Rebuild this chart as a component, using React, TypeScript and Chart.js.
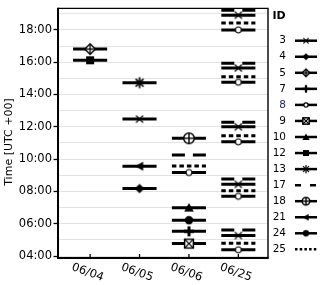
import React, { useEffect, useRef } from 'react';
import { Chart, registerables } from 'chart.js';

Chart.register(...registerables);

// ---------------- data ----------------
const categories = ['06/04', '06/05', '06/06', '06/25'];
const idLabels = ['3', '4', '5', '7', '8', '9', '10', '12', '13', '17', '18', '21', '24', '25'];

// observations: [day index, hour of day (UTC)]
const obs3: [number, number][] = [[1, 12.48], [3, 18.91], [3, 15.64], [3, 12.0], [3, 8.44], [3, 5.27]];
const obs4: [number, number][] = [[1, 8.18]];
const obs5: [number, number][] = [[0, 16.81]];
const obs7: [number, number][] = [[2, 5.53]];
const obs8: [number, number][] = [[2, 9.17], [3, 18.0], [3, 14.76], [3, 11.07], [3, 7.7], [3, 4.39]];
const obs9: [number, number][] = [[2, 4.77]];
const obs10: [number, number][] = [[2, 6.99]];
const obs12: [number, number][] = [[0, 16.12]];
const obs13: [number, number][] = [[1, 14.73]];
const obs17: [number, number][] = [[2, 10.26], [3, 19.21], [3, 15.94], [3, 12.28], [3, 8.77], [3, 5.62]];
const obs18: [number, number][] = [[2, 11.29]];
const obs21: [number, number][] = [[1, 9.56]];
const obs24: [number, number][] = [[2, 6.22]];
const obs25: [number, number][] = [[2, 9.58], [3, 18.42], [3, 15.1], [3, 11.44], [3, 8.04], [3, 4.79]];

const hourTicks = [4, 5, 6, 7, 8, 9, 10, 11, 12, 13, 14, 15, 16, 17, 18, 19];
const yTickLabels = ['04:00', '06:00', '08:00', '10:00', '12:00', '14:00', '16:00', '18:00'];

const seriesObs = [obs3, obs4, obs5, obs7, obs8, obs9, obs10, obs12, obs13, obs17, obs18, obs21, obs24, obs25];

// ---------------- styles ----------------
type Kind = 'x' | 'diamond' | 'diamondPlus' | 'plus' | 'circleOpen' | 'squareX' | 'triUp' | 'square' | 'star' | 'circlePlus' | 'triLeft' | 'circle' | 'none';
const markerKinds: Kind[] = ['x', 'diamond', 'diamondPlus', 'plus', 'circleOpen', 'squareX', 'triUp', 'square', 'star', 'none', 'circlePlus', 'triLeft', 'circle', 'none'];
const markerSizes = [3.5, 4.8, 6, 5, 3.5, 5, 4.8, 4, 5.5, 0, 6, 4.5, 4.2, 0];
const plotDashes: number[][] = [[], [], [], [], [], [], [], [], [], [13, 8], [], [], [], [4.5, 3]];
const legendDashes: number[][] = [[], [], [], [], [], [], [], [], [], [6, 9], [], [], [], [2.5, 2.2]];
const HALF = 0.345;
const FONT = 'DejaVu Sans';

function makeMarker(kind: Kind, s: number): HTMLCanvasElement | null {
  if (kind === 'none') return null;
  const size = 2 * Math.ceil(s + 2);
  const c = document.createElement('canvas');
  c.width = size;
  c.height = size;
  const g = c.getContext('2d')!;
  g.translate(size / 2, size / 2);
  g.fillStyle = '#000';
  g.strokeStyle = '#000';
  const line = (x1: number, y1: number, x2: number, y2: number, w: number) => {
    g.lineWidth = w;
    g.beginPath();
    g.moveTo(x1, y1);
    g.lineTo(x2, y2);
    g.stroke();
  };
  const k = s / 5;
  switch (kind) {
    case 'x':
      line(-s, -s, s, s, 1.5 * Math.max(k, 0.8));
      line(-s, s, s, -s, 1.5 * Math.max(k, 0.8));
      break;
    case 'diamond':
      g.beginPath();
      g.moveTo(0, -s); g.lineTo(s, 0); g.lineTo(0, s); g.lineTo(-s, 0);
      g.closePath(); g.fill();
      break;
    case 'diamondPlus': {
      const r = s - 0.7;
      g.beginPath();
      g.moveTo(0, -r); g.lineTo(r, 0); g.lineTo(0, r); g.lineTo(-r, 0);
      g.closePath();
      g.fillStyle = '#fff'; g.fill();
      g.lineWidth = 1.4; g.stroke();
      line(-r, 0, r, 0, 1.3);
      line(0, -r, 0, r, 1.3);
      break;
    }
    case 'plus':
      line(-s, 0, s, 0, 3 * k);
      line(0, -s, 0, s, 3 * k);
      break;
    case 'circleOpen':
      g.beginPath(); g.arc(0, 0, s - 0.5, 0, Math.PI * 2);
      g.fillStyle = '#fff'; g.fill();
      g.lineWidth = 1.2; g.stroke();
      break;
    case 'squareX': {
      const r = s - 0.6;
      g.fillStyle = '#fff';
      g.fillRect(-r, -r, 2 * r, 2 * r);
      g.lineWidth = 1.5;
      g.strokeRect(-r, -r, 2 * r, 2 * r);
      line(-r, -r, r, r, 1.3);
      line(-r, r, r, -r, 1.3);
      break;
    }
    case 'triUp':
      g.beginPath();
      g.moveTo(0, -s); g.lineTo(s, s * 0.8); g.lineTo(-s, s * 0.8);
      g.closePath(); g.fill();
      break;
    case 'square':
      g.fillRect(-s, -s, 2 * s, 2 * s);
      break;
    case 'star':
      for (let a = 0; a < 4; a++) {
        const t = (a * Math.PI) / 4;
        line(-s * Math.cos(t), -s * Math.sin(t), s * Math.cos(t), s * Math.sin(t), 1.5 * Math.max(k, 0.8));
      }
      break;
    case 'circlePlus': {
      const r = s - 0.7;
      g.beginPath(); g.arc(0, 0, r, 0, Math.PI * 2);
      g.fillStyle = '#fff'; g.fill();
      g.lineWidth = 1.5; g.stroke();
      line(-r, 0, r, 0, 1.4);
      line(0, -r, 0, r, 1.4);
      break;
    }
    case 'triLeft':
      g.beginPath();
      g.moveTo(-s, 0); g.lineTo(s * 0.8, -s); g.lineTo(s * 0.8, s);
      g.closePath(); g.fill();
      break;
    case 'circle':
      g.beginPath(); g.arc(0, 0, s, 0, Math.PI * 2); g.fill();
      break;
  }
  return c;
}

export default function App() {
  const ref = useRef<HTMLCanvasElement | null>(null);

  useEffect(() => {
    if (!ref.current) return;
    const plotMarkers = markerKinds.map((k, i) => makeMarker(k, markerSizes[i]));
    const legendMarkers = markerKinds.map((k, i) => makeMarker(k, markerSizes[i] * 0.75));

    const datasets = seriesObs.map((obs, i) => {
      const data: { x: number; y: number | null }[] = [];
      obs.forEach(([d, h]) => {
        data.push({ x: d - HALF, y: h });
        data.push({ x: d, y: h });
        data.push({ x: d + HALF, y: h });
        data.push({ x: d, y: null });
      });
      const mk = plotMarkers[i];
      return {
        label: idLabels[i],
        data,
        borderColor: '#000',
        backgroundColor: '#000',
        borderWidth: 3,
        borderDash: plotDashes[i],
        borderCapStyle: 'butt' as const,
        tension: 0,
        spanGaps: false,
        pointStyle: mk ? (mk as any) : 'circle',
        pointRadius: (ctx: any) => (mk && ctx.dataIndex % 4 === 1 ? 5 : 0),
        pointHoverRadius: 0,
      };
    });

    const decorations = {
      id: 'decorations',
      afterDraw(chart: any) {
        const ctx = chart.ctx as CanvasRenderingContext2D;
        const a = chart.chartArea;
        const xs = chart.scales.x;
        ctx.save();
        // frame
        ctx.strokeStyle = '#000';
        ctx.lineWidth = 1.4;
        ctx.beginPath();
        ctx.moveTo(a.left, a.top); ctx.lineTo(a.right, a.top); ctx.lineTo(a.right, a.bottom);
        ctx.stroke();
        ctx.lineWidth = 2;
        ctx.beginPath();
        ctx.moveTo(a.left, a.top - 0.7); ctx.lineTo(a.left, a.bottom); ctx.lineTo(a.right + 0.7, a.bottom);
        ctx.stroke();
        // x ticks (inside) and rotated labels
        ctx.lineWidth = 1.3;
        ctx.fillStyle = '#000';
        ctx.font = `11.5px "${FONT}"`;
        ctx.textAlign = 'center';
        ctx.textBaseline = 'middle';
        categories.forEach((c, i) => {
          const px = xs.getPixelForValue(i);
          ctx.beginPath();
          ctx.moveTo(px, a.bottom);
          ctx.lineTo(px, a.bottom - 4);
          ctx.stroke();
          ctx.save();
          ctx.translate(px - 2.5, a.bottom + 14.5);
          ctx.rotate((20 * Math.PI) / 180);
          ctx.fillText(c, 0, 0);
          ctx.restore();
        });
        // y title
        ctx.save();
        ctx.translate(9, 142);
        ctx.rotate(-Math.PI / 2);
        ctx.font = `11px "${FONT}"`;
        ctx.fillText('Time [UTC +00]', 0, 0);
        ctx.restore();
        // legend
        ctx.font = `bold 11px "${FONT}"`;
        ctx.textAlign = 'center';
        ctx.fillText('ID', 279, 16);
        ctx.font = `10.5px "${FONT}"`;
        idLabels.forEach((lab, i) => {
          const y = 40.7 + 16.05 * i;
          ctx.textAlign = 'right';
          ctx.fillStyle = lab === '8' ? '#23236b' : '#000';
          ctx.fillText(lab, 286, y);
          ctx.fillStyle = '#000';
          ctx.strokeStyle = '#000';
          ctx.lineWidth = 2.5;
          ctx.setLineDash(legendDashes[i]);
          ctx.beginPath();
          ctx.moveTo(295, y);
          ctx.lineTo(317, y);
          ctx.stroke();
          ctx.setLineDash([]);
          const m = legendMarkers[i];
          if (m) ctx.drawImage(m, 306 - m.width / 2, y - m.height / 2);
        });
        ctx.restore();
      },
    };

    const chart = new Chart(ref.current, {
      type: 'line',
      data: { datasets: datasets as any },
      options: {
        animation: false,
        responsive: false,
        events: [],
        layout: { padding: { top: 3, right: 52, left: 0, bottom: 0 } },
        plugins: { legend: { display: false }, tooltip: { enabled: false } },
        scales: {
          x: {
            type: 'linear',
            min: -0.65,
            max: 3.6,
            grid: { display: false },
            border: { display: false },
            ticks: { display: false },
            afterFit: (s: any) => { s.height = 27; },
          },
          y: {
            type: 'linear',
            min: 3.88,
            max: 19.33,
            afterBuildTicks: (s: any) => { s.ticks = hourTicks.map((v) => ({ value: v })); },
            border: { display: false },
            grid: {
              color: '#e2e2e2',
              lineWidth: 1,
              tickLength: 4.5,
              tickWidth: 1.3,
              tickColor: (ctx: any) => (ctx.tick && ctx.tick.value % 2 === 0 ? '#000' : 'rgba(0,0,0,0)'),
            },
            ticks: {
              autoSkip: false,
              padding: 1.5,
              color: '#000',
              font: { family: FONT, size: 11.5 },
              callback: (v: any) => (Number(v) % 2 === 0 ? yTickLabels[(Number(v) - 4) / 2] : ''),
            },
            afterFit: (s: any) => { s.width = 58; },
          },
        },
      },
      plugins: [decorations],
    });
    return () => chart.destroy();
  }, []);

  return (
    <div style={{ position: 'absolute', left: 0, top: 0, width: 320, height: 285, background: '#fff' }}>
      <canvas ref={ref} width={320} height={285} />
    </div>
  );
}
